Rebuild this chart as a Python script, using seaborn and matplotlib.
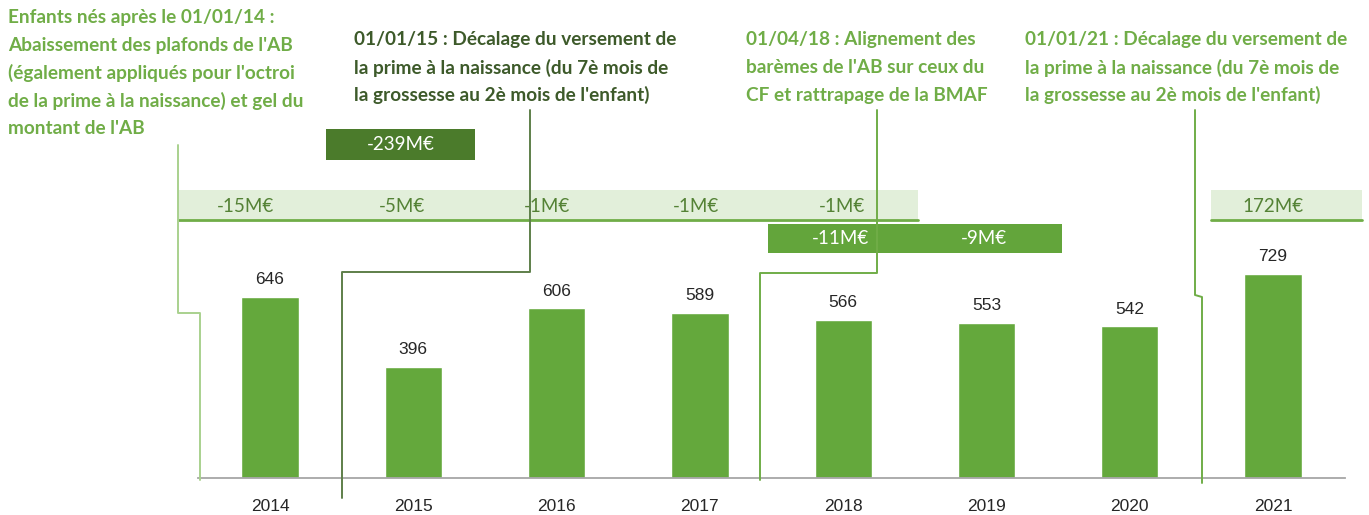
import matplotlib
matplotlib.use("Agg")
import matplotlib.pyplot as plt
from matplotlib.patches import Rectangle
from matplotlib.ticker import FixedLocator
import seaborn as sns

# data
years = ["2014", "2015", "2016", "2017", "2018", "2019", "2020", "2021"]
totals = [646, 396, 606, 589, 566, 553, 542, 729]

band_light_labels = ["-15M€", "-5M€", "-1M€", "-1M€", "-1M€"]   # 2014..2018
band_2015_label = "-239M€"
band_2018_labels = ["-11M€", "-9M€"]                            # 2018, 2019
band_2021_label = "172M€"

note_2014 = ["Enfants nés après le 01/01/14 :",
             "Abaissement des plafonds de l'AB",
             "(également appliqués pour l'octroi",
             "de la prime à la naissance) et gel du",
             "montant de l'AB"]
note_2015 = ["01/01/15 : Décalage du versement de",
             "la prime à la naissance (du 7è mois de",
             "la grossesse au 2è mois de l'enfant)"]
note_2018 = ["01/04/18 : Alignement des",
             "barèmes de l'AB sur ceux du",
             "CF et rattrapage de la BMAF"]
note_2021 = ["01/01/21 : Décalage du versement de",
             "la prime à la naissance (du 7è mois de",
             "la grossesse au 2è mois de l'enfant)"]

BAR = "#64A83C"
LIGHT = "#E2EFDA"
LINE = "#70AD47"
OLIVE = "#548235"
DARK = "#4B7B2B"
TXT = "#262626"

sns.set_theme(style="white")
plt.rcParams["font.family"] = ["Lato", "DejaVu Sans"]

W, H = 1369, 515
fig = plt.figure(figsize=(W / 100, H / 100), dpi=100)
ax = fig.add_axes([0, 0, 1, 1])

sns.barplot(x=years, y=totals, color=BAR, width=0.4, saturation=1, ax=ax)

# pixel helpers for the layout: 143.3 px per category, 0.28 px per unit
x0, dx = 270, 143.3
y0, dy = 478, 0.28
ax.set_xlim((0 - x0) / dx, (W - x0) / dx)
ax.set_ylim((y0 - H) / dy, y0 / dy)


def px(p):
    return (p - x0) / dx


def py(p):
    return (y0 - p) / dy


for c in ax.containers:
    ax.bar_label(c, labels=[str(v) for v in totals], padding=7,
                 fontsize=12.5, color=TXT, family="Liberation Sans")

# axis line with ticks between categories
for s in ["top", "left", "right"]:
    ax.spines[s].set_visible(False)
ax.spines["bottom"].set_position(("data", 0))
ax.spines["bottom"].set_bounds(-0.5, len(years) - 0.5)
ax.spines["bottom"].set_color("#A6A6A6")
ax.spines["bottom"].set_linewidth(1.3)
ax.set_yticks([])
ax.tick_params(axis="x", which="major", length=0, pad=15,
               labelsize=12.5, labelcolor=TXT)
ax.xaxis.set_minor_locator(FixedLocator([i - 0.5 for i in range(len(years) + 1)]))
ax.tick_params(axis="x", which="minor", length=7, width=1.2, color="#A6A6A6",
               direction="out")
for t in ax.get_xticklabels():
    t.set_family("Liberation Sans")
ax.set_xlabel("")


def box(xa, xb, ta, tb, color, underline=False):
    ax.add_patch(Rectangle((xa, py(tb)), xb - xa, py(ta) - py(tb),
                           facecolor=color, edgecolor="none", zorder=1))
    if underline:
        ax.plot([xa, xb], [py(tb), py(tb)], color=LINE, lw=2, zorder=2)


# light band 2014-2018
box(-0.64, 4.52, 190, 220, LIGHT, underline=True)
offs = [-0.17, -0.08, -0.07, -0.03, -0.01]
for i, lab in enumerate(band_light_labels):
    ax.text(i + offs[i], py(206), lab, ha="center", va="center",
            fontsize=13.5, color=OLIVE, zorder=3)

# dark 2015 box
box(0.39, 1.43, 129, 160, DARK)
ax.text(0.91, py(144), band_2015_label, ha="center", va="center",
        fontsize=13.5, color="white", zorder=3)

# 2018-2019 box
box(3.475, 5.53, 224, 253, "#63A53B")
for i, lab in enumerate(band_2018_labels):
    ax.text(4 + i - 0.02, py(238), lab, ha="center", va="center",
            fontsize=13.5, color="white", zorder=3)

# 2021 box
box(6.57, 7.62, 190, 220, LIGHT, underline=True)
ax.text(7.0, py(206), band_2021_label, ha="center", va="center",
        fontsize=13.5, color=OLIVE, zorder=3)

# connectors
paths = [
    ([178, 178, 200, 200], [145, 313, 313, 480], "#A9D18E"),
    ([530, 530, 342, 342], [110, 272, 272, 498], "#5E7F4A"),
    ([877, 877, 760, 760], [110, 273, 273, 480], LINE),
    ([1195, 1195, 1202, 1202], [110, 295, 297, 483], LINE),
]
for xs, ys, col in paths:
    ax.plot([px(v) for v in xs], [py(v) for v in ys], color=col, lw=1.4,
            zorder=4)

# notes
notes = [
    (note_2014, 8, 18, LINE),
    (note_2015, 354, 40, "#3D5A2A"),
    (note_2018, 746, 40, LINE),
    (note_2021, 1025, 40, LINE),
]
for lines, left, top, col in notes:
    for k, line in enumerate(lines):
        ax.text(px(left), py(top + 27.5 * k), line, ha="left", va="center",
                fontsize=13.7, fontweight="bold", color=col)

fig.savefig("out.png", dpi=100)
